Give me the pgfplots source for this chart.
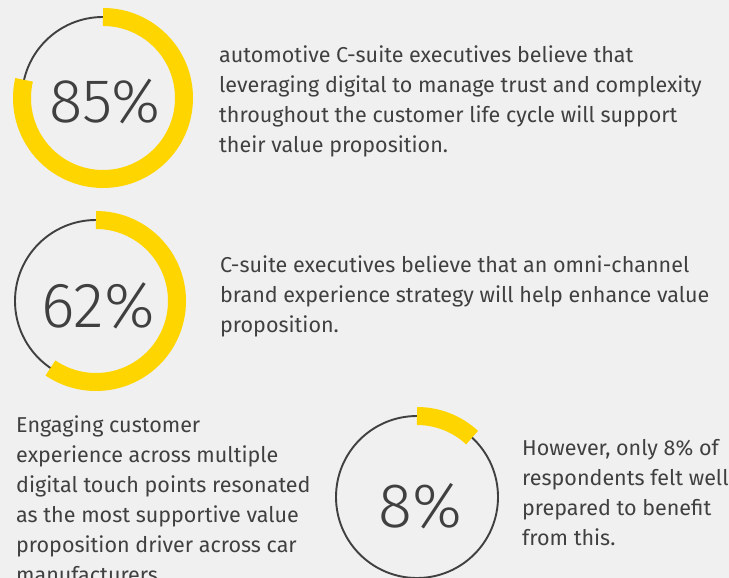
\documentclass[border=0pt]{standalone}
\usepackage{pgfplots}
\pgfplotsset{compat=1.18}
\usepackage{fontspec}
\setmainfont{Fira Sans}
\newfontfamily\lightfont{Fira Sans}[UprightFont={* Light}]
\definecolor{eyyellow}{HTML}{FFD500}
\definecolor{ring}{HTML}{404040}
\definecolor{txt}{HTML}{404040}
\definecolor{bg}{HTML}{F0F0F0}

% one donut: centre x, centre y, share of the ring drawn in yellow (percent)
\newcommand\donut[3]{%
  \draw[ring,line width=1.9bp] (axis cs:#1,#2) circle[radius=81bp];
  \draw[eyyellow,line width=18bp] (axis cs:#1,#2) ++(90:81bp)
    arc[start angle=90,delta angle=-3.6*#3,radius=81bp];
}
\newcommand\bodyline[3]{%
  \node[anchor=base west,inner sep=0pt,txt,font=\fontsize{21.6}{30}\selectfont] at (axis cs:#1,#2) {#3};
}

\begin{document}
\begin{tikzpicture}[x=1bp,y=1bp]
\useasboundingbox (0,0) rectangle (729,578);
\fill[bg] (0,0) rectangle (729,578);
\begin{axis}[at={(0,0)},anchor=south west,width=729bp,height=578bp,scale only axis,
  xmin=0,xmax=729,ymin=0,ymax=578,y dir=reverse,hide axis,clip=false]
\donut{103}{98}{78.6}
\donut{96}{301}{59.5}
\donut{417}{497}{11.9}
\node[anchor=base,inner sep=0pt,txt,font=\lightfont\fontsize{62}{62}\selectfont] at (axis cs:105,123) {85\%};
\node[anchor=base,inner sep=0pt,txt,font=\lightfont\fontsize{64}{64}\selectfont] at (axis cs:98,328) {62\%};
\node[anchor=base,inner sep=0pt,txt,font=\lightfont\fontsize{63}{63}\selectfont] at (axis cs:420,527) {8\%};
\bodyline{219}{63}{automotive C-suite executives believe that}
\bodyline{219}{93}{leveraging digital to manage trust and complexity}
\bodyline{219}{123}{throughout the customer life cycle will support}
\bodyline{219}{153}{their value proposition.}
\bodyline{220}{273}{C-suite executives believe that an omni-channel}
\bodyline{220}{303}{brand experience strategy will help enhance value}
\bodyline{220}{333}{proposition.}
\bodyline{16}{432}{Engaging customer}
\bodyline{16}{462}{experience across multiple}
\bodyline{16}{492}{digital touch points resonated}
\bodyline{16}{522}{as the most supportive value}
\bodyline{16}{552}{proposition driver across car}
\bodyline{16}{582}{manufacturers.}
\bodyline{522}{455}{However, only 8\% of}
\bodyline{522}{485}{respondents felt well}
\bodyline{522}{515}{prepared to benefit}
\bodyline{522}{545}{from this.}
\end{axis}
\end{tikzpicture}
\end{document}
